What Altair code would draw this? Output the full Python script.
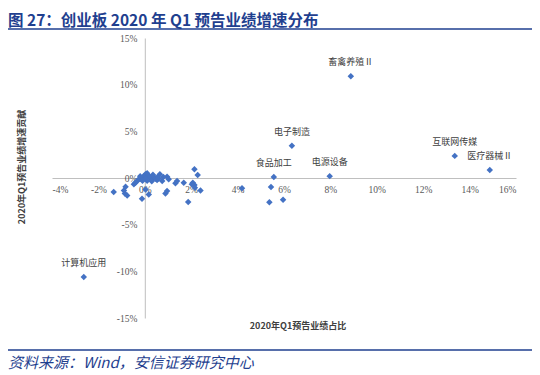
import altair as alt
import pandas as pd

# ---- data (percent units) ----
names = ["畜禽养殖Ⅱ", "电子制造", "食品加工", "电源设备", "互联网传媒", "医疗器械Ⅱ", "计算机应用"]
named_share = [8.88, 6.34, 5.56, 7.97, 13.36, 14.87, -2.63]
named_growth = [10.9, 3.45, 0.10, 0.20, 2.37, 0.86, -10.6]

other_share = [-0.47, -0.40, -0.33, -0.26, -0.19, -0.12, -0.04, 0.03, 0.10, 0.17,
               0.25, 0.31, 0.39, 0.46, 0.53, 0.65, 0.75, 0.96, 1.03, 1.32,
               1.39, 1.68, -0.12, 0.17, 0.03, 0.89, 0.96, -0.20, 0.10, 0.20,
               0.35, 0.55, 0.05, -0.10, 0.60, 0.80, 0.30,
               -1.34, -0.83, -0.90, -0.86, -0.76,
               2.14, 2.28, 2.07, 2.14, 2.40, 1.87, 4.19, 5.44, 5.37, 5.96,
               2.03, 2.16]
other_growth = [-0.68, -0.51, -0.32, -0.14, -0.08, 0.03, 0.22, 0.40, 0.51, 0.22,
                0.03, -0.14, 0.14, -0.08, -0.22, 0.40, -0.32, 0.14, -0.14, -0.57,
                -0.32, -0.51, -2.23, -1.76, -1.22, -1.65, -1.40, 0.20, -0.30, 0.10,
                0.35, 0.10, -0.10, -0.30, -0.05, 0.10, -0.35,
                -1.51, -0.94, -1.33, -1.65, -1.87,
                0.94, 0.32, -0.50, -0.75, -1.33, -2.56, -1.11, -0.97, -2.59, -2.34,
                -0.68, -1.05]

x_ticks = [-4, -2, 0, 2, 4, 6, 8, 10, 12, 14, 16]
y_ticks = [-15, -10, -5, 0, 5, 10, 15]

title_text = "图 27：创业板 2020 年 Q1 预告业绩增速分布"
source_text = "资料来源：Wind，安信证券研究中心"
x_title = "2020年Q1预告业绩占比"
y_title = "2020年Q1预告业绩增速贡献"

W, H = 464, 280
CJK = "Noto Sans CJK SC"
BLUE = "#1F3F8F"

all_df = pd.DataFrame({
    "share": other_share + named_share,
    "growth": other_growth + named_growth,
})
named_df = pd.DataFrame({"share": named_share, "growth": named_growth, "name": names})

x_scale = alt.Scale(domain=[-4, 16], nice=False, zero=False)
y_scale = alt.Scale(domain=[-15, 15], nice=False, zero=False)

axis_common = dict(
    grid=False, ticks=False, tickSize=0, title=None,
    domainColor="#BFBFBF", domainWidth=1,
    labelFont="Liberation Serif", labelFontSize=9.5, labelColor="#595959",
    labelExpr="datum.value + '%'",
)

points = alt.Chart(all_df).mark_point(
    shape="diamond", filled=True, size=42, color="#4472C4", opacity=1
).encode(
    x=alt.X("share:Q", scale=x_scale,
            axis=alt.Axis(values=x_ticks, offset=-(H / 2), labelPadding=6, **axis_common)),
    y=alt.Y("growth:Q", scale=y_scale,
            axis=alt.Axis(values=y_ticks, offset=-(W * 4 / 20), labelPadding=8, **axis_common)),
)

labels = alt.Chart(named_df).mark_text(
    dy=-14, font=CJK, fontSize=9, color="#404040"
).encode(x="share:Q", y="growth:Q", text="name:N")

one = pd.DataFrame({"k": [0]})

title_mark = alt.Chart(pd.DataFrame({"t": [title_text]})).mark_text(
    align="left", baseline="alphabetic", font=CJK, fontSize=15.5, fontWeight="bold", color=BLUE
).encode(text="t:N", x=alt.value(-44), y=alt.value(-12))

title_rule = alt.Chart(one).mark_rule(color=BLUE, strokeWidth=1.5).encode(
    x=alt.value(-44), x2=alt.value(480), y=alt.value(-9))

foot_rule = alt.Chart(one).mark_rule(color=BLUE, strokeWidth=1.5).encode(
    x=alt.value(-44), x2=alt.value(480), y=alt.value(312))

foot_text = alt.Chart(pd.DataFrame({"t": [source_text]})).mark_text(
    align="left", baseline="middle", font=CJK, fontSize=15, fontStyle="italic", color=BLUE
).encode(text="t:N", x=alt.value(-44), y=alt.value(325))

xt = alt.Chart(pd.DataFrame({"t": [x_title]})).mark_text(
    align="center", baseline="middle", font=CJK, fontSize=9, fontWeight="bold", color="#404040"
).encode(text="t:N", x=alt.value(246), y=alt.value(288))

yt = alt.Chart(pd.DataFrame({"t": [y_title]})).mark_text(
    align="center", baseline="middle", font=CJK, fontSize=9, fontWeight="bold",
    color="#404040", angle=270
).encode(text="t:N", x=alt.value(-30), y=alt.value(129))

chart = alt.layer(
    points, labels, title_mark, title_rule, foot_rule, foot_text, xt, yt
).properties(
    width=W, height=H,
    autosize=alt.AutoSizeParams(type="none"),
    padding={"left": 44, "top": 30, "right": 16, "bottom": 60},
).configure_view(strokeWidth=0)

chart.save("out.html", embed_options={"renderer": "svg", "actions": False})
